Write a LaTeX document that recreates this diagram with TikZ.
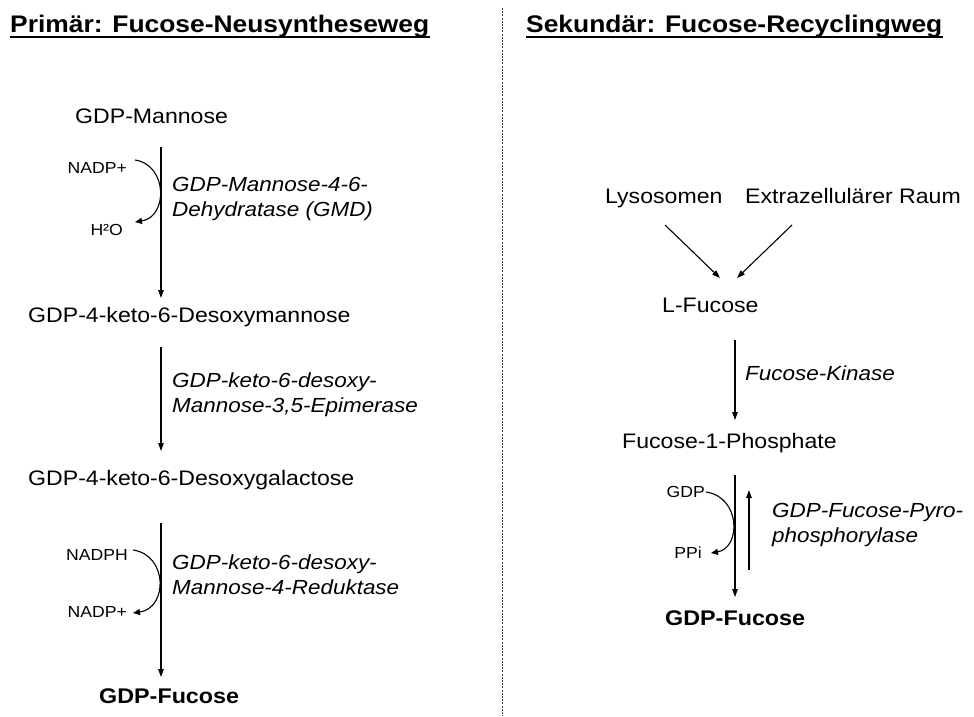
\documentclass[tikz,border=0pt]{standalone}
\usepackage{fontspec}
\setmainfont{Liberation Sans}[FakeStretch=1.1]
\usetikzlibrary{arrows.meta}
\tikzset{
  lbl/.style={inner sep=0pt, font=\fontsize{21}{25}\selectfont},
  small/.style={inner sep=0pt, font=\fontsize{16}{19}\selectfont},
  enz/.style={inner sep=0pt, align=left, font=\fontsize{20.4}{24.5}\selectfont\itshape},
  prod/.style={inner sep=0pt, font=\fontsize{21.2}{25}\selectfont\bfseries},
  ttl/.style={inner sep=0pt, font=\fontsize{24}{28}\selectfont\bfseries},
  arr/.style={line width=1.1pt, -{Triangle[length=8pt,width=5.5pt]}},
  carr/.style={line width=1.1pt, -{Triangle[length=7pt,width=6pt]}},
  uline/.style={line width=2.4pt},
  divider/.style={line width=0.9pt, black!75, dash pattern=on 2pt off 1.2pt}
}
\begin{document}
\begin{tikzpicture}[x=1pt,y=-1pt]
\useasboundingbox (0,0) rectangle (974,716);
% titles
\node[ttl, anchor=base west] (t1) at (10,32) {Primär: Fucose-Neusyntheseweg};
\node[ttl, anchor=base west] (t2) at (526,32) {Sekundär: Fucose-Recyclingweg};
\draw[uline] ([yshift=-5pt]t1.base west) -- ([yshift=-5pt]t1.base east);
\draw[uline] ([yshift=-5pt]t2.base west) -- ([yshift=-5pt]t2.base east);
% divider
\coordinate (dtop) at (502,8);
\coordinate (dbot) at (502,716);
\draw[divider] (dtop) -- (dbot);

% ---------- left column ----------
\node[lbl, anchor=base west] (mann) at (75,123) {GDP-Mannose};
\coordinate (a1s) at (161,147);
\coordinate (a1e) at (161,298);
\draw[arr] (a1s) -- (a1e);
\node[small, anchor=base east] (nadp1) at (127,173) {NADP+};
\node[small, anchor=base east] (h2o) at (123,235) {H²O};
\coordinate (c1s) at (135,160);
\coordinate (c1e) at (135,222);
\draw[carr] (c1s) .. controls (168,165) and (168,217) .. (c1e);
\node[enz, anchor=base west] (enz1) at (172,216) {GDP-Mannose-4-6-\\Dehydratase (GMD)};

\node[lbl, anchor=base west] (desm) at (28,322) {GDP-4-keto-6-Desoxymannose};
\coordinate (a2s) at (161,347);
\coordinate (a2e) at (161,451);
\draw[arr] (a2s) -- (a2e);
\node[enz, anchor=base west] (enz2) at (172,412) {GDP-keto-6-desoxy-\\Mannose-3,5-Epimerase};

\node[lbl, anchor=base west] (desg) at (28,485) {GDP-4-keto-6-Desoxygalactose};
\coordinate (a3s) at (161,523);
\coordinate (a3e) at (161,677);
\draw[arr] (a3s) -- (a3e);
\node[small, anchor=base east] (nadph) at (128,560) {NADPH};
\node[small, anchor=base east] (nadp2) at (127,617) {NADP+};
\coordinate (c2s) at (133,550);
\coordinate (c2e) at (133,613);
\draw[carr] (c2s) .. controls (168,555) and (168,608) .. (c2e);
\node[enz, anchor=base west] (enz3) at (172,594) {GDP-keto-6-desoxy-\\Mannose-4-Reduktase};

\node[prod, anchor=base west] (gf1) at (99,703) {GDP-Fucose};

% ---------- right column ----------
\node[lbl, anchor=base west] (lyso) at (605,203) {Lysosomen};
\node[lbl, anchor=base west] (extra) at (745,203) {Extrazellulärer Raum};
\node[lbl, anchor=base west] (lfuc) at (662,312) {L-Fucose};
\coordinate (b1s) at (665,225);
\coordinate (b1e) at (720,278);
\coordinate (b2s) at (792,225);
\coordinate (b2e) at (737,278);
\draw[arr] (b1s) -- (b1e);
\draw[arr] (b2s) -- (b2e);

\coordinate (a4s) at (735,340);
\coordinate (a4e) at (735,420);
\draw[arr] (a4s) -- (a4e);
\node[enz, anchor=base west] (kin) at (745,380) {Fucose-Kinase};

\node[lbl, anchor=base west] (f1p) at (622,448) {Fucose-1-Phosphate};
\coordinate (a5s) at (735,475);
\coordinate (a5e) at (735,597);
\draw[arr] (a5s) -- (a5e);
\coordinate (a6s) at (749,570);
\coordinate (a6e) at (749,490);
\draw[arr] (a6s) -- (a6e);
\node[small, anchor=base east] (gdp) at (705,497) {GDP};
\node[small, anchor=base east] (ppi) at (702,558) {PPi};
\coordinate (c3s) at (706,492);
\coordinate (c3e) at (711,553);
\draw[carr] (c3s) .. controls (741,497) and (741,548) .. (c3e);
\node[enz, anchor=base west] (pyro) at (772,542) {GDP-Fucose-Pyro-\\phosphorylase};

\node[prod, anchor=base west] (gf2) at (665,625) {GDP-Fucose};
\end{tikzpicture}
\end{document}
